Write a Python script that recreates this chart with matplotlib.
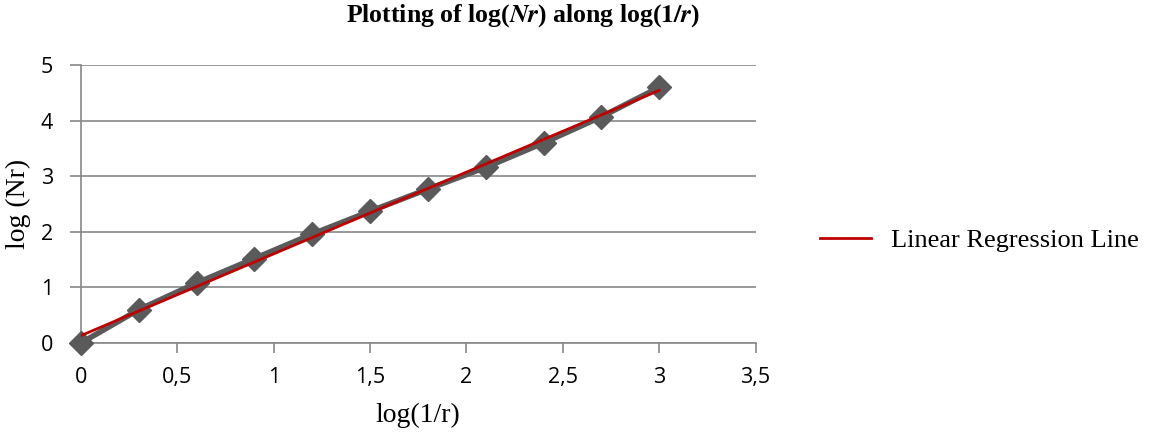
import numpy as np
import matplotlib
matplotlib.use("Agg")
import matplotlib.pyplot as plt
from matplotlib.ticker import FuncFormatter

# data
log_inv_r = [0, 0.3, 0.6, 0.9, 1.2, 1.5, 1.8, 2.1, 2.4, 2.7, 3.0]
log_nr = [0, 0.6, 1.08, 1.52, 1.96, 2.37, 2.77, 3.16, 3.6, 4.07, 4.6]
x_ticks = [0, 0.5, 1, 1.5, 2, 2.5, 3, 3.5]
y_ticks = [0, 1, 2, 3, 4, 5]

fig = plt.figure(figsize=(11.5, 4.34), dpi=100)
ax = fig.add_axes([0.0704, 0.2097, 0.5866, 0.6403])

x = np.array(log_inv_r)
y = np.array(log_nr)
slope, icpt = np.polyfit(x, y, 1)

ax.plot(x, y, color="#5a5a5a", lw=4, marker="D", ms=12.5, zorder=3,
        clip_on=False)
ax.plot([x[0], x[-1]], [icpt, icpt + slope * x[-1]], color="#c00000",
        lw=2, zorder=4, label="Linear Regression Line")

ax.set_xlim(0, 3.5)
ax.set_ylim(0, 5)
ax.set_xticks(x_ticks)
ax.set_yticks(y_ticks)
fmt = FuncFormatter(lambda v, p: ("%g" % v).replace(".", ","))
ax.xaxis.set_major_formatter(fmt)
ax.yaxis.set_major_formatter(fmt)

gc = "#888888"
ax.grid(axis="y", color=gc, lw=1.2)
ax.set_axisbelow(True)
for s in ["top", "right"]:
    ax.spines[s].set_visible(False)
ax.spines["left"].set_color(gc)
ax.spines["bottom"].set_color(gc)
ax.spines["left"].set_linewidth(1.2)
ax.spines["bottom"].set_linewidth(1.2)
ax.tick_params(axis="x", direction="out", length=7, color=gc, width=1.2, pad=10,
               labelsize=15.5, labelfontfamily="Open Sans")
ax.tick_params(axis="y", direction="out", length=8, color=gc, width=1.2, pad=12,
               labelsize=15.5, labelfontfamily="Open Sans")

ax.set_xlabel("log(1/r)", family="Liberation Serif", fontsize=20)
ax.set_ylabel("log (Nr)", family="Liberation Serif", fontsize=20)
ax.xaxis.set_label_coords(0.5, -0.216)
ax.yaxis.set_label_coords(-0.074, 0.5)

fig.text(0.455, 0.963, r"Plotting of log($\boldsymbol{Nr}$) along log($\boldsymbol{1/r}$)",
         ha="center", va="center", family="Liberation Serif", fontsize=18.5,
         fontweight="bold", math_fontfamily="stix")

fig.legend(handles=ax.get_legend_handles_labels()[0], loc="center left",
           bbox_to_anchor=(0.713, 0.447), frameon=False,
           prop={"family": "Liberation Serif", "size": 19},
           handlelength=1.95, handletextpad=0.75, borderpad=0, borderaxespad=0)

fig.savefig("out.png", dpi=100)
